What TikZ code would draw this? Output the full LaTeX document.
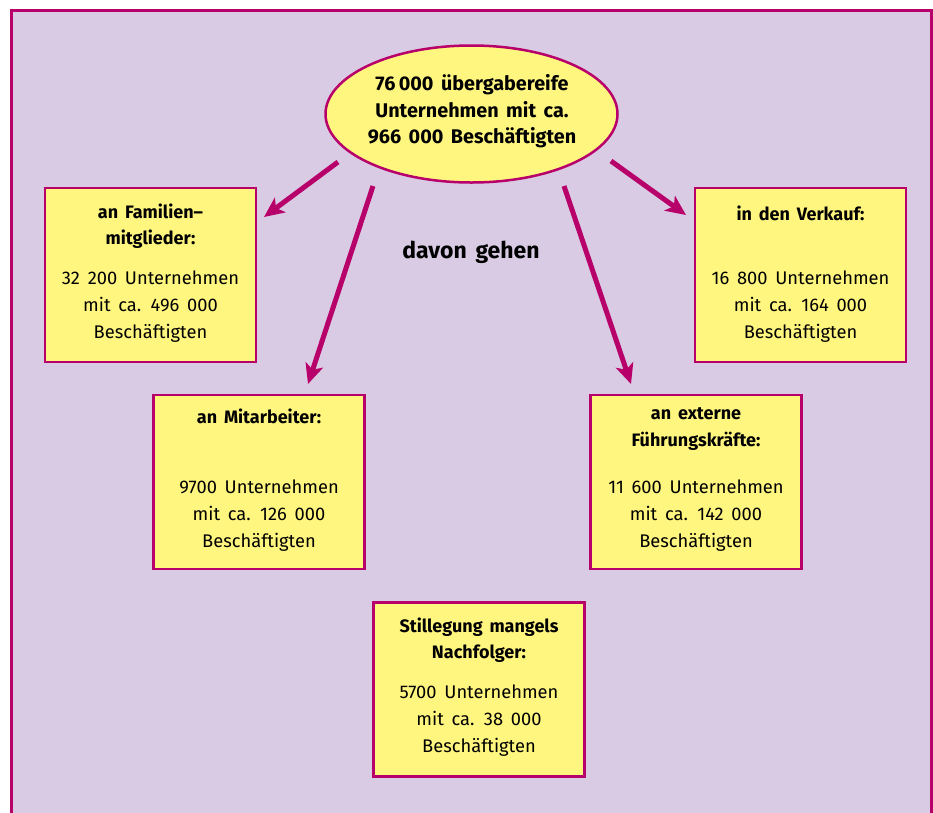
\documentclass[tikz,border=0pt]{standalone}
\usepackage{fontspec}
\setmainfont{Fira Sans}[WordSpace=1.6]
\usetikzlibrary{shapes.geometric,arrows.meta}
\definecolor{lav}{HTML}{D9CBE3}
\definecolor{mag}{HTML}{B8006B}
\definecolor{yel}{HTML}{FFF680}
\tikzset{
  box/.style={draw=mag,fill=yel,line width=2.5pt,minimum width=211pt,minimum height=174pt,inner sep=0pt},
  ttl/.style={font=\fontsize{18}{26.5}\selectfont\bfseries,align=center,anchor=center},
  bdy/.style={font=\fontsize{18.3}{27}\selectfont,align=center,anchor=center},
  arr/.style={draw=mag,line width=5pt,-{Stealth[length=20pt,width=18pt,inset=5pt]}}
}
\begin{document}
\begin{tikzpicture}[x=1pt,y=-1pt]
\useasboundingbox (0,0) rectangle (933,812);
\path[fill=lav,draw=mag,line width=3pt] (11,10.5) rectangle (931,830);
\node[ellipse,draw=mag,fill=yel,line width=2.5pt,minimum width=292pt,minimum height=137pt,inner sep=0pt] (ell) at (471.5,114) {};
\node[ttl,font=\fontsize{19.8}{26.5}\selectfont\bfseries] (ellt) at (472,111.5) {76\,000 übergabereife\\Unternehmen mit ca.\\966 000 Beschäftigten};
% boxes
\node[box] (fam) at (150.5,275) {};
\node[box] (ver) at (800.5,275) {};
\node[box] (mit) at (259,482) {};
\node[box] (ext) at (696,482) {};
\node[box] (sti) at (479,689.5) {};
% titles
\node[ttl] (famt) at (150.5,226) {an Familien--\\mitglieder:};
\node[bdy] (famb) at (150.5,307) {32 200 Unternehmen\\mit ca. 496 000\\Beschäftigten};
\node[ttl] (vert) at (800.5,213) {in den Verkauf:};
\node[bdy] (verb) at (800.5,307) {16 800 Unternehmen\\mit ca. 164 000\\Beschäftigten};
\node[ttl] (mitt) at (259,416) {an Mitarbeiter:};
\node[bdy] (mitb) at (259,515.5) {9700 Unternehmen\\mit ca. 126 000\\Beschäftigten};
\node[ttl] (extt) at (696,429) {an externe\\Führungskräfte:};
\node[bdy] (extb) at (696,515.5) {11 600 Unternehmen\\mit ca. 142 000\\Beschäftigten};
\node[ttl] (stit) at (479,640) {Stillegung mangels\\Nachfolger:};
\node[bdy] (stib) at (479,721) {5700 Unternehmen\\mit ca. 38 000\\Beschäftigten};
\node[font=\fontsize{23}{26}\selectfont\bfseries] (davon) at (471,252) {davon gehen};
% arrow coordinates
\coordinate (s1) at (338,162); \coordinate (e1) at (264,217);
\coordinate (s2) at (373,186); \coordinate (e2) at (308,384);
\coordinate (s3) at (564,186); \coordinate (e3) at (631,384);
\coordinate (s4) at (611,161); \coordinate (e4) at (686,215);
\draw[arr] (s1) -- (e1);
\draw[arr] (s2) -- (e2);
\draw[arr] (s3) -- (e3);
\draw[arr] (s4) -- (e4);
\end{tikzpicture}
\end{document}
